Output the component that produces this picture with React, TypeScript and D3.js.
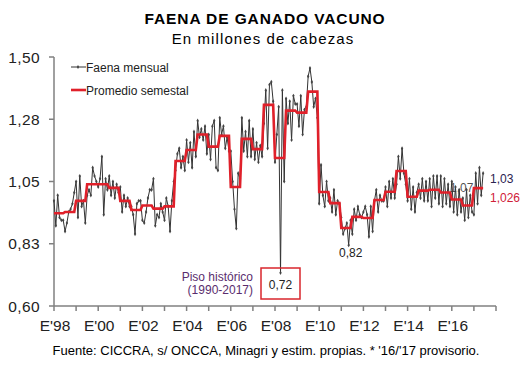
import React, { useEffect } from 'react'
import * as d3 from 'd3'

// monthly slaughter, millions of head, Jan 1998 .. Jun 2017
const faenaMensual = [
  0.98, 0.89, 1.00, 0.92, 0.91, 0.91, 0.87, 0.90, 0.94, 0.95, 0.97, 1.01, // 1998
  1.05, 0.92, 1.07, 0.96, 0.98, 0.90, 1.00, 1.02, 1.00, 1.10, 1.07, 1.05, // 1999
  1.03, 1.06, 1.14, 0.93, 1.06, 1.02, 1.07, 1.00, 1.05, 0.99, 1.04, 1.01, // 2000
  1.03, 0.94, 1.00, 0.96, 0.99, 0.96, 0.96, 0.93, 0.86, 0.97, 0.98, 0.98, // 2001
  0.91, 0.90, 0.94, 0.99, 1.02, 1.02, 1.06, 0.89, 0.93, 0.92, 0.97, 0.94, // 2002
  0.91, 0.99, 0.96, 0.87, 0.98, 1.05, 1.09, 1.15, 1.17, 1.10, 1.14, 1.09, // 2003
  1.20, 1.12, 1.19, 1.10, 1.23, 1.14, 1.27, 1.21, 1.24, 1.20, 1.25, 1.15, // 2004
  1.22, 1.13, 1.25, 1.27, 1.10, 1.09, 1.28, 1.22, 1.25, 1.17, 1.21, 1.16, // 2005
  1.16, 1.05, 0.95, 0.88, 1.08, 1.06, 1.28, 1.16, 1.23, 1.14, 1.27, 1.14, // 2006
  1.24, 1.13, 1.19, 1.12, 1.18, 1.14, 1.26, 1.38, 1.17, 1.40, 1.41, 1.34, // 2007
  1.12, 1.22, 1.32, 0.72, 1.38, 1.05, 1.35, 1.26, 1.34, 1.20, 1.36, 1.33, // 2008
  1.33, 1.25, 1.36, 1.22, 1.31, 1.32, 1.43, 1.46, 1.41, 1.32, 1.35, 1.28, // 2009
  0.97, 1.11, 1.00, 0.96, 1.05, 0.98, 0.99, 0.94, 1.02, 0.93, 0.98, 0.97, // 2010
  0.92, 0.86, 0.88, 0.90, 0.82, 0.91, 0.86, 0.95, 0.91, 0.96, 0.93, 0.92, // 2011
  0.94, 0.96, 0.93, 0.85, 0.96, 0.87, 0.98, 1.02, 0.94, 1.00, 0.98, 0.98, // 2012
  1.03, 0.96, 1.05, 0.99, 1.06, 0.99, 1.04, 1.14, 1.06, 1.17, 1.08, 1.04, // 2013
  0.98, 1.06, 0.95, 1.03, 0.94, 1.01, 1.04, 0.99, 1.06, 0.98, 1.05, 0.98, // 2014
  1.06, 0.96, 1.07, 0.99, 1.07, 0.97, 1.07, 0.96, 1.06, 0.97, 1.04, 0.96, // 2015
  1.05, 0.94, 1.03, 0.93, 1.02, 0.94, 0.99, 0.91, 1.02, 0.92, 1.00, 0.94, // 2016
  0.93, 1.08, 0.97, 1.10, 1.00, 1.08                                      // 2017
]

// semester averages, 1998 H1 .. 2017 H1
const promedioSemestral = [
  0.935, 0.94, 0.98, 1.04, 1.04, 1.027, 0.98, 0.947, 0.963, 0.952,
  0.96, 1.124, 1.164, 1.22, 1.176, 1.215, 1.03, 1.204, 1.167, 1.327,
  1.135, 1.306, 1.299, 1.375, 1.012, 0.972, 0.882, 0.922, 0.918, 0.983,
  1.013, 1.088, 0.995, 1.017, 1.02, 1.01, 0.985, 0.963, 1.026
]

const yTicks = [0.6, 0.825, 1.05, 1.275, 1.5]
const yTickLabels = ['0,60', '0,83', '1,05', '1,28', '1,50']
const xYears = d3.range(1998, 2019)
const xLabelYears = [1998, 2000, 2002, 2004, 2006, 2008, 2010, 2012, 2014, 2016]

const W = 524
const H = 366
const font = 'Liberation Sans, Arial, sans-serif'

export default function App() {
  useEffect(() => {
    document.body.style.margin = '0'
  }, [])

  const x = d3.scaleLinear().domain([1998, 2018]).range([54, 496])
  const y = d3.scaleLinear().domain([0.6, 1.5]).range([306, 57])

  const monthly = faenaMensual.map((v, i) => ({ t: 1998 + i / 12, v }))
  const semestral = faenaMensual.map((_, i) => ({
    t: 1998 + i / 12,
    v: promedioSemestral[Math.floor(i / 6)]
  }))

  const line = d3.line<{ t: number; v: number }>()
    .x(d => x(d.t))
    .y(d => y(d.v))

  const diamond = d3.symbol().type(d3.symbolDiamond).size(5)()

  const last = monthly[monthly.length - 1]
  const minIdx = faenaMensual.indexOf(d3.min(faenaMensual) as number)
  const low2011 = monthly[13 * 12 + 4]

  return (
    <svg width={W} height={H} style={{ display: 'block', background: '#fff' }} fontFamily={font}>
      <text x={265} y={24} textAnchor="middle" fontSize={15.5} fontWeight="bold" letterSpacing={0.9} fill="#000">FAENA DE GANADO VACUNO</text>
      <text x={263} y={44} textAnchor="middle" fontSize={15} letterSpacing={1.1} fill="#000">En millones de cabezas</text>

      {/* y axis */}
      <line x1={54} x2={54} y1={57} y2={306} stroke="#808080" strokeWidth={1.5} />
      {yTicks.map((t, i) => (
        <g key={t}>
          <line x1={49} x2={54} y1={y(t)} y2={y(t)} stroke="#808080" strokeWidth={1.5} />
          <text x={40} y={y(t) + 5.5} textAnchor="end" fontSize={15.5} letterSpacing={0.4} fill="#222">{yTickLabels[i]}</text>
        </g>
      ))}

      {/* x axis */}
      <line x1={54} x2={496} y1={306} y2={306} stroke="#808080" strokeWidth={1.5} />
      {xYears.map(yr => (
        <line key={yr} x1={x(yr)} x2={x(yr)} y1={306} y2={311} stroke="#808080" strokeWidth={1.5} />
      ))}
      {xLabelYears.map(yr => (
        <text key={yr} x={x(yr) + 1} y={331} textAnchor="middle" fontSize={15.5} fill="#222">
          {"E'" + String(yr).slice(2)}
        </text>
      ))}

      {/* monthly series */}
      <path d={line(monthly) || ''} fill="none" stroke="#333" strokeWidth={1} />
      {monthly.map((d, i) => (
        <path key={i} d={diamond || ''} transform={`translate(${x(d.t)},${y(d.v)})`} fill="#444" />
      ))}

      {/* semester average */}
      <path d={line(semestral) || ''} fill="none" stroke="#e0202a" strokeWidth={2.6} />

      {/* legend */}
      <line x1={71} x2={86} y1={67} y2={67} stroke="#333" strokeWidth={1} />
      <path d={diamond || ''} transform="translate(78,67)" fill="#444" />
      <text x={86} y={71.5} fontSize={12} fill="#222">Faena mensual</text>
      <line x1={71} x2={86} y1={90} y2={90} stroke="#e0202a" strokeWidth={2.6} />
      <text x={86} y={94.5} fontSize={12} fill="#222">Promedio semestal</text>

      {/* annotations */}
      <rect x={261} y={268} width={39} height={31} fill="none" stroke="#d9262c" strokeWidth={1.5} />
      <text x={x(monthly[minIdx].t)} y={289} textAnchor="middle" fontSize={12} fill="#222">0,72</text>
      <text x={253} y={281} textAnchor="end" fontSize={12} fill="#5a2d6e">Piso histórico</text>
      <text x={253} y={294} textAnchor="end" fontSize={12} fill="#5a2d6e">(1990-2017)</text>
      <text x={x(low2011.t) + 2} y={257} textAnchor="middle" fontSize={12} fill="#222">0,82</text>
      <text x={450} y={192} fontSize={12} fill="#333" fillOpacity={0.85}>1,07</text>
      <text x={490} y={183} fontSize={12} fill="#2b2350">1,03</text>
      <text x={490} y={201.5} fontSize={12} fill="#d02038">1,026</text>

      <text x={266} y={355} textAnchor="middle" fontSize={13} fill="#000">
        Fuente: CICCRA, s/ ONCCA, Minagri y estim. propias. * '16/'17 provisorio.
      </text>
    </svg>
  )
}
